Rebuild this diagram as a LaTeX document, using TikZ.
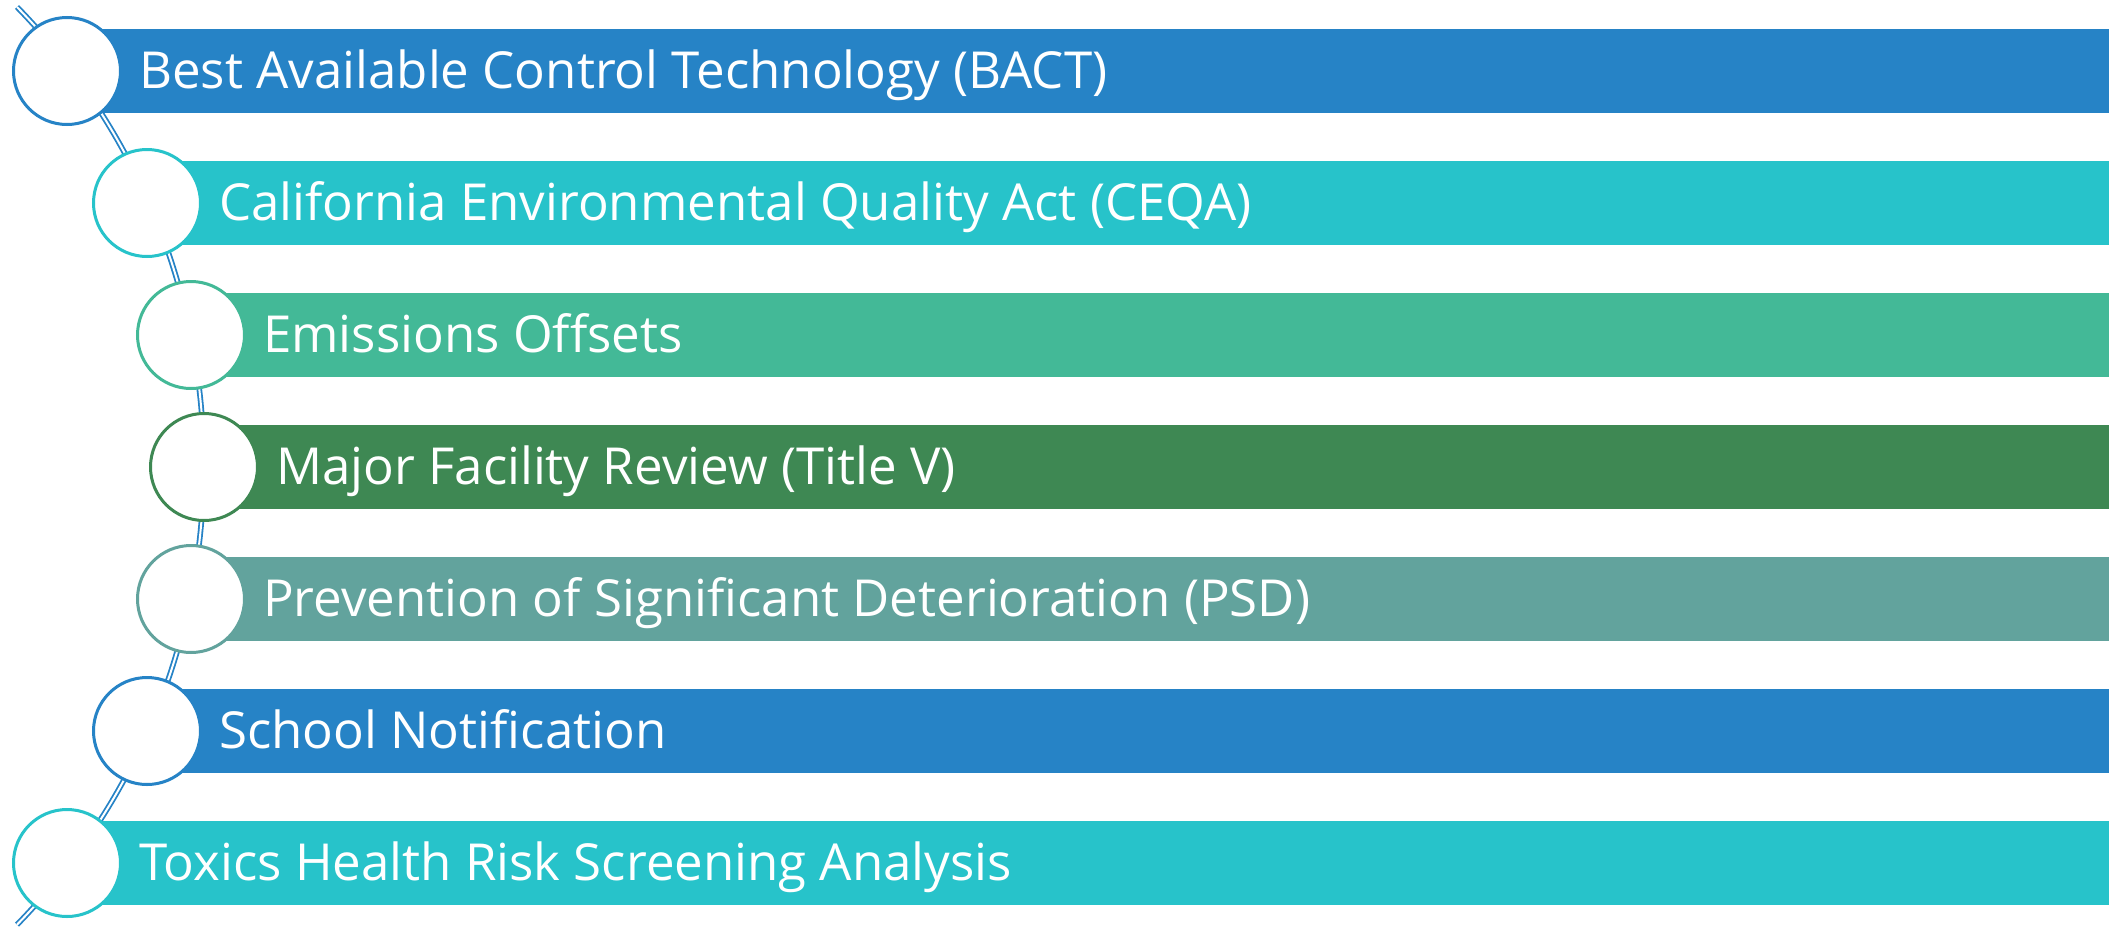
\documentclass[tikz,border=0pt]{standalone}
\usepackage{fontspec}
\setmainfont{Open Sans}[Ligatures=NoCommon]
\definecolor{cblue}{HTML}{2683C6}
\definecolor{cteal}{HTML}{27C3CA}
\definecolor{cgreen}{HTML}{43B997}
\definecolor{cdark}{HTML}{3E8853}
\definecolor{cgrey}{HTML}{62A39D}
\begin{document}
\begin{tikzpicture}[x=1pt,y=-1pt,
  ring/.style={circle, draw=#1, line width=3pt, fill=white, minimum size=107pt, inner sep=0pt},
  lbl/.style={anchor=base west, inner sep=0pt, text=white, font=\fontsize{51}{58}\selectfont},
  link/.style={double=white, draw=cblue, line width=1.8pt, double distance=2pt}]
\useasboundingbox (0,0) rectangle (2109,929);
% bars
\foreach \i/\cx/\cy/\col in {1/67/71/cblue,2/147/203/cteal,3/191/335/cgreen,4/204/467/cdark,5/191/599/cgrey,6/147/731/cblue,7/67/863/cteal}{
  \path[fill=\col] (\cx,\cy-42) rectangle (2109,\cy+42);
}
% connector
\coordinate (top) at (17,7);
\draw[link] (top) arc[start angle=-44.3, end angle=44.3, radius=657] coordinate (bottom);
% circles and labels
\foreach \i/\cx/\cy/\col/\txt in {
  1/67/71/cblue/{Best Available Control Technology (BACT)},
  2/147/203/cteal/{California Environmental Quality Act (CEQA)},
  3/191/335/cgreen/{Emissions Offsets},
  4/204/467/cdark/{Major Facility Review (Title V)},
  5/191/599/cgrey/{Prevention of Significant Deterioration (PSD)},
  6/147/731/cblue/{School Notification},
  7/67/863/cteal/{Toxics Health Risk Screening Analysis}}{
  \node[ring=\col] (c\i) at (\cx,\cy) {};
  \node[lbl] (t\i) at (\cx+72,\cy+17) {\txt};
}
\end{tikzpicture}
\end{document}
